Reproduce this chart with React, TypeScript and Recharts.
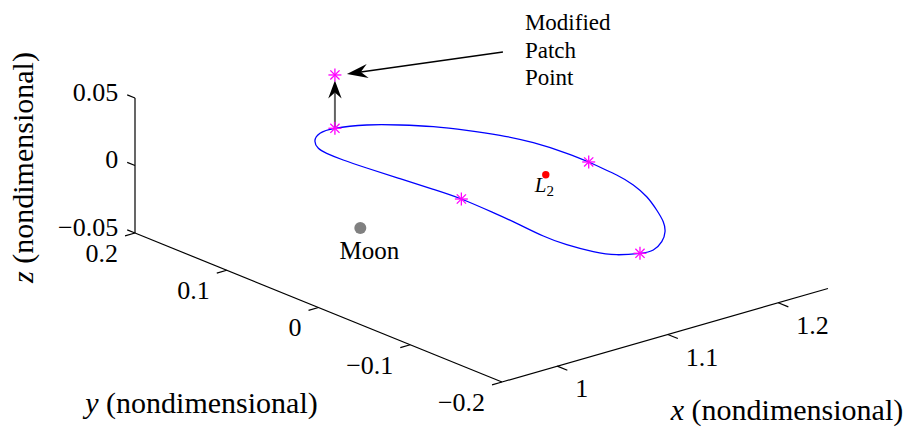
import React from 'react';
import { ComposedChart, XAxis, YAxis, Line, Scatter, ReferenceLine, ReferenceDot } from 'recharts';

// Limits of the 3-D axes box (nondimensional rotating frame)
const X_LIM = [0.95, 1.245];
const Y_LIM = [-0.2, 0.2];
const Z_LIM = [-0.05, 0.05];

const X_TICKS = [1, 1.1, 1.2];
const X_TICK_LABELS = ['1', '1.1', '1.2'];
const Y_TICKS = [0.2, 0.1, 0, -0.1, -0.2];
const Y_TICK_LABELS = ['0.2', '0.1', '0', '\u22120.1', '\u22120.2'];
const Z_TICKS = [0.05, 0, -0.05];
const Z_TICK_LABELS = ['0.05', '0', '\u22120.05'];

// Planar Lyapunov orbit about L2, closed loop
const ORBIT_X = [
  1.1952, 1.193, 1.1888, 1.1806, 1.1685, 1.1567, 1.1446, 1.1298, 1.1145, 1.1031,
  1.0889, 1.0804, 1.0755, 1.0744, 1.0769, 1.0784, 1.0793, 1.0771, 1.0733, 1.0696,
  1.0676, 1.0676, 1.0697, 1.0778, 1.0902, 1.1046, 1.1258, 1.1434, 1.1589, 1.1719,
  1.183, 1.191, 1.1949, 1.1952,
];
const ORBIT_Y = [
  0.0008, -0.0323, -0.0555, -0.08, -0.1054, -0.1268, -0.1433, -0.1576, -0.1668, -0.166,
  -0.1577, -0.1424, -0.1194, -0.0952, -0.0632, -0.0359, 0.0, 0.0279, 0.0597, 0.0915,
  0.1147, 0.1327, 0.1443, 0.1578, 0.1672, 0.1683, 0.1591, 0.1441, 0.1264, 0.1057,
  0.0828, 0.0561, 0.0244, 0.0008,
];
const ORBIT_Z = ORBIT_X.map(() => 0);

// Multiple-shooting patch points on the orbit
const PATCH_X = [1.1046, 1.1952, 1.1031, 1.0793];
const PATCH_Y = [0.1683, 0.0008, -0.166, 0.0];
const PATCH_Z = [0, 0, 0, 0];

const MODIFIED_PATCH = { x: 1.1046, y: 0.1683, z: 0.0395 };
const MOON = { x: 0.98785, y: 0, z: 0 };
const L2 = { x: 1.15568, y: 0, z: 0 };

// Camera: view-plane position of the box corner (xmin, ymax, zmin) and the
// view-plane displacement per unit of x, y and z
const CAMERA = {
  origin: { h: 135, v: 233 },
  ex: { h: 1105, v: -317 },
  ey: { h: -917.5, v: -372.5 },
  ez: { h: 0, v: -1350 },
};

const W = 912;
const H = 441;
const FONT = 'Liberation Serif';

type P = { px: number; py: number };

const project = (x: number, y: number, z: number): P => ({
  px:
    CAMERA.origin.h +
    (x - X_LIM[0]) * CAMERA.ex.h +
    (y - Y_LIM[1]) * CAMERA.ey.h +
    (z - Z_LIM[0]) * CAMERA.ez.h,
  py:
    CAMERA.origin.v +
    (x - X_LIM[0]) * CAMERA.ex.v +
    (y - Y_LIM[1]) * CAMERA.ey.v +
    (z - Z_LIM[0]) * CAMERA.ez.v,
});

const textShape =
  (
    content: React.ReactNode,
    dx: number,
    dy: number,
    anchor: 'start' | 'middle' | 'end',
    size: number,
    rotate = 0,
  ) =>
  (p: any) => {
    const x = p.cx + dx;
    const y = p.cy + dy;
    return (
      <text
        className="plot-text"
        x={x}
        y={y}
        textAnchor={anchor}
        style={{ fontFamily: FONT, fontSize: size }}
        fill="#000"
        transform={rotate ? `rotate(${rotate} ${x} ${y})` : undefined}
      >
        {content}
      </text>
    );
  };

const asterisk = (p: any) => {
  const { cx, cy } = p;
  const r = 6.5;
  const d = 4.6;
  return (
    <g stroke="#ff00ff" strokeWidth={1.3}>
      <line x1={cx - r} y1={cy} x2={cx + r} y2={cy} />
      <line x1={cx} y1={cy - r} x2={cx} y2={cy + r} />
      <line x1={cx - d} y1={cy - d} x2={cx + d} y2={cy + d} />
      <line x1={cx - d} y1={cy + d} x2={cx + d} y2={cy - d} />
    </g>
  );
};

const disc = (r: number, fill: string) => (p: any) => <circle cx={p.cx} cy={p.cy} r={r} fill={fill} />;

const arrowHead = (angle: number, len: number, half: number, notch: number) => (p: any) => {
  const { cx, cy } = p;
  const c = Math.cos(angle);
  const s = Math.sin(angle);
  const pt = (a: number, b: number) => `${cx + a * c - b * s},${cy + a * s + b * c}`;
  return <polygon points={[pt(0, 0), pt(-len, -half), pt(-len + notch, 0), pt(-len, half)].join(' ')} fill="#000" />;
};

const seg = (a: P, b: P) => [
  { x: a.px, y: a.py },
  { x: b.px, y: b.py },
];

export default function App() {
  const orbit = ORBIT_X.map((x, i) => project(x, ORBIT_Y[i], ORBIT_Z[i]));
  const patches = PATCH_X.map((x, i) => project(x, PATCH_Y[i], PATCH_Z[i]));
  const modified = project(MODIFIED_PATCH.x, MODIFIED_PATCH.y, MODIFIED_PATCH.z);
  const moon = project(MOON.x, MOON.y, MOON.z);
  const l2 = project(L2.x, L2.y, L2.z);

  // axis lines
  const zAxis = seg(project(X_LIM[0], Y_LIM[1], Z_LIM[0]), project(X_LIM[0], Y_LIM[1], Z_LIM[1]));
  const yAxis = seg(project(X_LIM[0], Y_LIM[1], Z_LIM[0]), project(X_LIM[0], Y_LIM[0], Z_LIM[0]));
  const xAxis = seg(project(X_LIM[0], Y_LIM[0], Z_LIM[0]), project(X_LIM[1], Y_LIM[0], Z_LIM[0]));

  const zTicks = Z_TICKS.map((z) => ({ a: project(X_LIM[0], Y_LIM[1], z), b: project(X_LIM[0], Y_LIM[1] + 0.0085, z) }));
  const yTicks = Y_TICKS.map((y) => ({ a: project(X_LIM[0], y, Z_LIM[0]), b: project(X_LIM[0] - 0.009, y, Z_LIM[0]) }));
  const xTicks = X_TICKS.map((x) => ({ a: project(x, Y_LIM[0], Z_LIM[0]), b: project(x, Y_LIM[0] - 0.011, Z_LIM[0]) }));

  const xMid = project((X_LIM[0] + X_LIM[1]) / 2, Y_LIM[0], Z_LIM[0]);
  const yMid = project(X_LIM[0], (Y_LIM[0] + Y_LIM[1]) / 2, Z_LIM[0]);
  const zMid = project(X_LIM[0], Y_LIM[1], (Z_LIM[0] + Z_LIM[1]) / 2);

  // vertical correction arrow: patch point -> modified patch point
  const start = patches[0];
  const vAng = Math.atan2(modified.py - start.py, modified.px - start.px);
  const vTip = { px: modified.px - 5.5 * Math.cos(vAng), py: modified.py - 5.5 * Math.sin(vAng) };
  const vShaftEnd = { px: vTip.px - 12 * Math.cos(vAng), py: vTip.py - 12 * Math.sin(vAng) };

  // callout arrow from the annotation text
  const cTail = { px: modified.px + 168, py: modified.py - 23 };
  const cTip = { px: modified.px + 12, py: modified.py - 1 };
  const cAng = Math.atan2(cTip.py - cTail.py, cTip.px - cTail.px);
  const cShaftEnd = { px: cTip.px - 14 * Math.cos(cAng), py: cTip.py - 14 * Math.sin(cAng) };

  const lineStyle = { stroke: '#000', strokeWidth: 1.2, ifOverflow: 'visible' as const };

  return (
    <div style={{ width: W, height: H, margin: -8, background: '#fff' }}>
      <style>{'.plot-text { font-family: "Liberation Serif", serif; }'}</style>
      <ComposedChart width={W} height={H} margin={{ top: 0, right: 0, bottom: 0, left: 0 }}>
        <XAxis type="number" dataKey="px" domain={[0, W]} hide allowDataOverflow />
        <YAxis type="number" domain={[0, H]} reversed hide allowDataOverflow />

        <ReferenceLine segment={zAxis} {...lineStyle} />
        <ReferenceLine segment={yAxis} {...lineStyle} />
        <ReferenceLine segment={xAxis} {...lineStyle} />
        {zTicks.map((t, i) => (
          <ReferenceLine key={`zt${i}`} segment={seg(t.a, t.b)} {...lineStyle} />
        ))}
        {yTicks.map((t, i) => (
          <ReferenceLine key={`yt${i}`} segment={seg(t.a, t.b)} {...lineStyle} />
        ))}
        {xTicks.map((t, i) => (
          <ReferenceLine key={`xt${i}`} segment={seg(t.a, t.b)} {...lineStyle} />
        ))}

        <Line data={orbit} dataKey="py" type="natural" stroke="#0000ff" strokeWidth={1.3}
          dot={false} activeDot={false} isAnimationActive={false} />

        <Scatter data={[moon]} dataKey="py" shape={disc(6, '#808080')} isAnimationActive={false} />
        <Scatter data={[l2]} dataKey="py" shape={disc(3.7, '#ff0000')} isAnimationActive={false} />

        <ReferenceLine segment={seg(start, vShaftEnd)} stroke="#636363" strokeWidth={2} ifOverflow="visible" />
        <ReferenceDot x={vTip.px} y={vTip.py} r={0} ifOverflow="visible" shape={arrowHead(vAng, 18, 6.7, 6)} />
        <ReferenceLine segment={seg(cTail, cShaftEnd)} stroke="#000" strokeWidth={1.4} ifOverflow="visible" />
        <ReferenceDot x={cTip.px} y={cTip.py} r={0} ifOverflow="visible" shape={arrowHead(cAng, 21, 7, 7)} />

        <Scatter data={[...patches, modified]} dataKey="py" shape={asterisk} isAnimationActive={false} />

        {zTicks.map((t, i) => (
          <ReferenceDot key={`zl${i}`} x={t.b.px} y={t.b.py} r={0} ifOverflow="visible"
            shape={textShape(Z_TICK_LABELS[i], -9, 6, 'end', 26)} />
        ))}
        {yTicks.map((t, i) => (
          <ReferenceDot key={`yl${i}`} x={t.b.px} y={t.b.py} r={0} ifOverflow="visible"
            shape={textShape(Y_TICK_LABELS[i], -7, 26, 'end', 26)} />
        ))}
        {xTicks.map((t, i) => (
          <ReferenceDot key={`xl${i}`} x={t.b.px} y={t.b.py} r={0} ifOverflow="visible"
            shape={textShape(X_TICK_LABELS[i], 8, 27, 'start', 26)} />
        ))}

        <ReferenceDot x={xMid.px} y={xMid.py} r={0} ifOverflow="visible"
          shape={textShape(<><tspan fontStyle="italic">x</tspan> (nondimensional)</>, 122, 85, 'middle', 30)} />
        <ReferenceDot x={yMid.px} y={yMid.py} r={0} ifOverflow="visible"
          shape={textShape(<><tspan fontStyle="italic">y</tspan> (nondimensional)</>, -117, 105, 'middle', 30)} />

        <ReferenceDot x={moon.px} y={moon.py} r={0} ifOverflow="visible"
          shape={textShape('Moon', 9, 31, 'middle', 25)} />
        <ReferenceDot x={l2.px} y={l2.py} r={0} ifOverflow="visible"
          shape={textShape(<><tspan fontStyle="italic">L</tspan><tspan fontSize={15} dy={4}>2</tspan></>, -11, 17, 'start', 21)} />
        <ReferenceDot x={modified.px} y={modified.py} r={0} ifOverflow="visible"
          shape={textShape('Modified', 190, -45, 'start', 23)} />
        <ReferenceDot x={modified.px} y={modified.py} r={0} ifOverflow="visible"
          shape={textShape('Patch', 190, -17, 'start', 23)} />
        <ReferenceDot x={modified.px} y={modified.py} r={0} ifOverflow="visible"
          shape={textShape('Point', 190, 10, 'start', 23)} />

        <ReferenceDot x={zMid.px} y={zMid.py} r={0} ifOverflow="visible"
          shape={textShape(<><tspan fontStyle="italic">z</tspan> (nondimensional)</>, -102, 2, 'middle', 30, -90)} />
      </ComposedChart>
    </div>
  );
}
